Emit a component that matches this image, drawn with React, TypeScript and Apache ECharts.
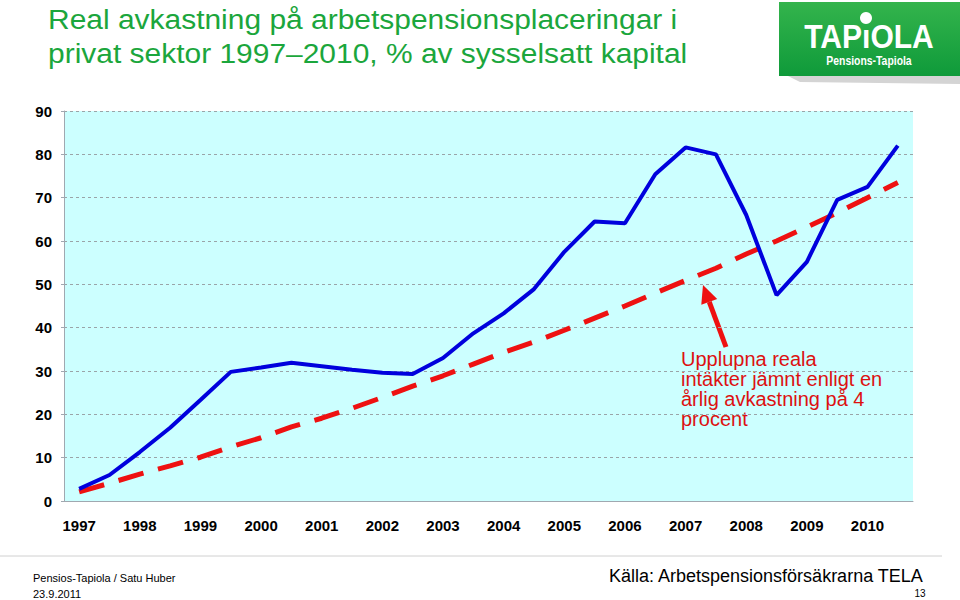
import React, { useEffect, useRef } from "react";
import * as echarts from "echarts";

const periods = [
  "1997", "1997.5", "1998", "1998.5", "1999", "1999.5", "2000", "2000.5",
  "2001", "2001.5", "2002", "2002.5", "2003", "2003.5", "2004", "2004.5",
  "2005", "2005.5", "2006", "2006.5", "2007", "2007.5", "2008", "2008.5",
  "2009", "2009.5", "2010", "2010.5",
];
const realReturn = [
  2.8, 6, 11.3, 16.9, 23.3, 29.8, 30.8, 31.9, 31.1, 30.3, 29.6, 29.3, 33, 38.7,
  43.3, 48.9, 57.5, 64.5, 64.1, 75.4, 81.6, 80, 66, 47.5, 55.2, 69.5, 72.5, 82,
];
const accrued4pct = [
  2.1, 4.1, 6.2, 8.1, 10.1, 12.5, 14.6, 17.1, 19.1, 21.4, 23.9, 26.5, 28.9, 31.6,
  34.3, 36.7, 39.4, 42.2, 45, 48, 50.9, 53.7, 57, 60, 63.2, 66.5, 70, 73.5,
];
const titleLines = [
  "Real avkastning på arbetspensionsplaceringar i",
  "privat sektor 1997–2010, % av sysselsatt kapital",
];
const annotationText = "Upplupna reala\nintäkter jämnt enligt en\nårlig avkastning på 4\nprocent";

const FONT = "'Liberation Sans', Arial, sans-serif";

export default function App() {
  const ref = useRef<HTMLDivElement>(null);
  useEffect(() => {
    if (!ref.current) return;
    const chart = echarts.init(ref.current, undefined, { renderer: "svg" });
    // arrow geometry
    const tip = [703, 285];
    const tail = [726, 347];
    const dx = tip[0] - tail[0];
    const dy = tip[1] - tail[1];
    const len = Math.sqrt(dx * dx + dy * dy);
    const ux = dx / len, uy = dy / len;
    const nx = -uy, ny = ux;
    const headLen = 18, headHalf = 8.5;
    const bx = tip[0] - headLen * ux, by = tip[1] - headLen * uy;

    chart.setOption({
      animation: false,
      backgroundColor: "#ffffff",
      textStyle: { fontFamily: FONT },
      grid: {
        left: 64, right: 47, top: 111, bottom: 99,
        show: true, backgroundColor: "#ccffff", borderWidth: 0,
      },
      xAxis: {
        type: "category",
        data: periods,
        boundaryGap: true,
        axisLine: { lineStyle: { color: "#a0a8b0", width: 1 } },
        axisTick: { interval: 1, length: 5, lineStyle: { color: "#a0a8b0" } },
        axisLabel: {
          interval: 1,
          margin: 17,
          fontSize: 15,
          fontWeight: "bold",
          color: "#000",
          fontFamily: FONT,
          formatter: (v: string) => v.slice(0, 4),
        },
        splitLine: { show: false },
      },
      yAxis: {
        type: "value",
        min: 0, max: 90, interval: 10,
        axisLine: { show: true, lineStyle: { color: "#a0a8b0", width: 1 } },
        axisTick: { show: true, length: 4, lineStyle: { color: "#a0a8b0", type: [3, 3] } },
        axisLabel: { margin: 12, fontSize: 15, fontWeight: "bold", color: "#000", fontFamily: FONT },
        splitLine: { show: true, lineStyle: { color: "#9aa4a8", width: 1, type: [3, 3] } },
      },
      series: [
        {
          type: "line",
          data: accrued4pct,
          symbol: "none",
          lineStyle: { color: "#ee1111", width: 5, type: [26, 15] },
          z: 2,
        },
        {
          type: "line",
          data: realReturn,
          symbol: "none",
          lineStyle: { color: "#0000dd", width: 4 },
          z: 3,
        },
      ],
      graphic: [
        {
          type: "text", x: 48, y: 5, scaleX: 1.07, silent: true,
          style: { text: titleLines[0], font: `28px ${FONT}`, fill: "#1ba63c", verticalAlign: "top" },
        },
        {
          type: "text", x: 48, y: 39, scaleX: 1.07, silent: true,
          style: { text: titleLines[1], font: `28px ${FONT}`, fill: "#1ba63c", verticalAlign: "top" },
        },
        // logo shadow
        {
          type: "polygon", silent: true,
          shape: { points: [[784, 74], [960, 70], [960, 84], [800, 82]] },
          style: { fill: "#d4d4d4" },
        },
        {
          type: "rect", silent: true,
          shape: { x: 779, y: 2, width: 181, height: 74 },
          style: {
            fill: new echarts.graphic.LinearGradient(0, 0, 0, 1, [
              { offset: 0, color: "#34b44c" },
              { offset: 1, color: "#0f9a3a" },
            ]),
          },
        },
        {
          type: "text", silent: true, x: 869, y: 36, scaleX: 0.91,
          style: {
            text: "TAPıOLA", font: `bold 33px ${FONT}`, fill: "#ffffff",
            align: "center", verticalAlign: "middle",
          },
        },
        {
          type: "circle", silent: true,
          shape: { cx: 866, cy: 18, r: 6 },
          style: { fill: "#ffffff" },
        },
        {
          type: "text", silent: true, x: 869, y: 60, scaleX: 0.8,
          style: {
            text: "Pensions-Tapiola", font: `bold 13px ${FONT}`, fill: "#ffffff",
            align: "center", verticalAlign: "middle",
          },
        },
        // annotation arrow
        {
          type: "line", silent: true,
          shape: { x1: tail[0], y1: tail[1], x2: bx, y2: by },
          style: { stroke: "#ee1111", lineWidth: 5 },
        },
        {
          type: "polygon", silent: true,
          shape: {
            points: [
              [tip[0], tip[1]],
              [bx + headHalf * nx, by + headHalf * ny],
              [bx - headHalf * nx, by - headHalf * ny],
            ],
          },
          style: { fill: "#ee1111" },
        },
        {
          type: "text", silent: true, left: 681, top: 349,
          style: {
            text: annotationText, font: `20px ${FONT}`, fill: "#dd1111",
            lineHeight: 20,
          },
        },
        // footer
        {
          type: "line", silent: true,
          shape: { x1: 0, y1: 556, x2: 942, y2: 556 },
          style: { stroke: "#d0d0d0", lineWidth: 1 },
        },
        {
          type: "text", silent: true, x: 33, y: 578,
          style: { text: "Pensios-Tapiola / Satu Huber", font: `11px ${FONT}`, fill: "#000", verticalAlign: "middle" },
        },
        {
          type: "text", silent: true, x: 33, y: 594,
          style: { text: "23.9.2011", font: `11px ${FONT}`, fill: "#000", verticalAlign: "middle" },
        },
        {
          type: "text", silent: true, x: 609, y: 576,
          style: { text: "Källa: Arbetspensionsförsäkrarna TELA", font: `18px ${FONT}`, fill: "#000", verticalAlign: "middle" },
        },
        {
          type: "text", silent: true, x: 920, y: 593,
          style: { text: "13", font: `10px ${FONT}`, fill: "#000", align: "center", verticalAlign: "middle" },
        },
      ],
    });
    return () => chart.dispose();
  }, []);
  return <div ref={ref} style={{ width: 960, height: 600, position: "absolute", left: 0, top: 0 }} />;
}
